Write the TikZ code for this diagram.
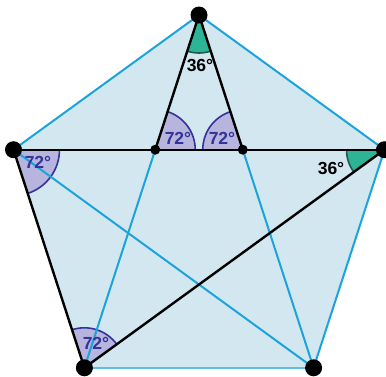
\documentclass[tikz,border=0pt]{standalone}
\usepackage{fontspec}
\setmainfont{Liberation Sans}
\definecolor{pentfill}{HTML}{D3E7F0}
\definecolor{cyanline}{HTML}{1BA3DC}
\definecolor{purfill}{HTML}{B7B4DE}
\definecolor{purline}{HTML}{34339A}
\definecolor{grnfill}{HTML}{2DB496}
\definecolor{grnline}{HTML}{1E5A4E}
\tikzset{
  thinedge/.style={cyanline, line width=2pt},
  heavyedge/.style={black, line width=2.4pt},
  bigdot/.style={circle, fill=black, inner sep=0pt, minimum size=17pt},
  smalldot/.style={circle, fill=black, inner sep=0pt, minimum size=10pt},
  psect/.style={fill=purfill},
  parc/.style={draw=purline, line width=1.6pt},
  gsect/.style={fill=grnfill},
  garc/.style={draw=grnline, line width=1.6pt},
  plbl/.style={text=purline, font=\bfseries\fontsize{17.5}{17.5}\selectfont, inner sep=0pt},
  glbl/.style={text=black, font=\bfseries\fontsize{17.5}{17.5}\selectfont, inner sep=0pt}
}
\begin{document}
\begin{tikzpicture}[x=1pt,y=1pt]
\useasboundingbox (0,0) rectangle (386,-376);
\coordinate (A) at (199,-15);
\coordinate (B) at (384.5,-149.7);
\coordinate (C) at (313.6,-367.8);
\coordinate (D) at (84.4,-367.8);
\coordinate (E) at (13.5,-149.7);
\coordinate (P1) at (intersection of A--D and E--B);
\coordinate (P2) at (intersection of A--C and E--B);
% pentagon
\fill[pentfill] (A)--(B)--(C)--(D)--(E)--cycle;
% sectors
\fill[gsect] (A) -- ++(252:38) arc[start angle=252,end angle=288,radius=38] -- cycle;
\draw[garc] (A) ++(252:38) arc[start angle=252,end angle=288,radius=38];
\fill[psect] (P1) -- ++(0:40) arc[start angle=0,end angle=72,radius=40] -- cycle;
\draw[parc] (P1) ++(0:40) arc[start angle=0,end angle=72,radius=40];
\fill[psect] (P2) -- ++(108:40) arc[start angle=108,end angle=180,radius=40] -- cycle;
\draw[parc] (P2) ++(108:40) arc[start angle=108,end angle=180,radius=40];
\fill[psect] (E) -- ++(-72:46) arc[start angle=-72,end angle=0,radius=46] -- cycle;
\draw[parc] (E) ++(-72:46) arc[start angle=-72,end angle=0,radius=46];
\fill[gsect] (B) -- ++(180:38) arc[start angle=180,end angle=216,radius=38] -- cycle;
\draw[garc] (B) ++(180:38) arc[start angle=180,end angle=216,radius=38];
\fill[psect] (D) -- ++(36:40) arc[start angle=36,end angle=108,radius=40] -- cycle;
\draw[parc] (D) ++(36:40) arc[start angle=36,end angle=108,radius=40];
% cyan lines
\draw[thinedge] (E)--(A)--(B)--(C);
\draw[thinedge, line width=1.5pt, cyanline!70] (C)--(D);
\draw[thinedge] (P1)--(D);
\draw[thinedge] (P2)--(C);
\draw[thinedge] (E)--(C);
% black lines
\draw[heavyedge] (E)--(B);
\draw[heavyedge] (P1)--(A)--(P2);
\draw[heavyedge] (E)--(D)--(B);
% dots
\node[bigdot] (dA) at (A) {};
\node[bigdot] (dB) at (B) {};
\node[bigdot] (dC) at (C) {};
\node[bigdot] (dD) at (D) {};
\node[bigdot] (dE) at (E) {};
\node[smalldot] (dP1) at (P1) {};
\node[smalldot] (dP2) at (P2) {};
% labels
\node[glbl] (lA) at (200,-65) {36°};
\node[plbl] (lP1) at (178,-138) {72°};
\node[plbl] (lP2) at (222,-138) {72°};
\node[plbl] (lE) at (38,-162) {72°};
\node[glbl] (lB) at (331,-168) {36°};
\node[plbl] (lD) at (96,-343) {72°};
\end{tikzpicture}
\end{document}
